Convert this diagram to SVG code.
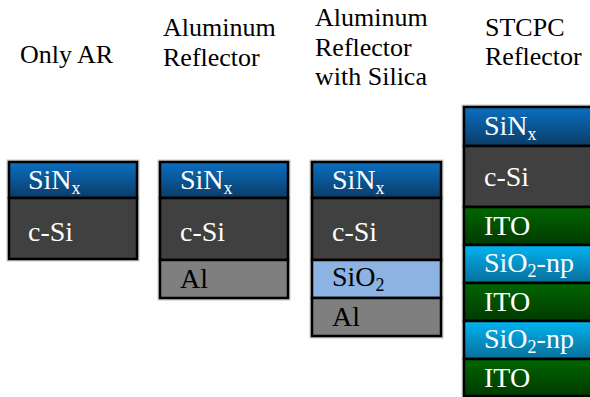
<svg xmlns="http://www.w3.org/2000/svg" width="590" height="397" viewBox="0 0 590 397">
<defs>
<linearGradient id="gSiN" x1="0" y1="0" x2="0" y2="1"><stop offset="0" stop-color="#0a70c2"/><stop offset="1" stop-color="#0a3c66"/></linearGradient>
<linearGradient id="gITO" x1="0" y1="0" x2="0" y2="1"><stop offset="0" stop-color="#006600"/><stop offset="1" stop-color="#003a00"/></linearGradient>
<linearGradient id="gNP" x1="0" y1="0" x2="0" y2="1"><stop offset="0" stop-color="#00b4f2"/><stop offset="1" stop-color="#0a6e98"/></linearGradient>
</defs>
<style>
text{font-family:'Liberation Serif','Times New Roman',serif}
.t{font-size:26px;fill:#000}
.l{font-size:28px;fill:#fff}
.d{fill:#000}
.sub{font-size:18px}
.lay{stroke:#000;stroke-width:2.5}
.halo{fill:none;stroke:#c8c8c8;stroke-width:5}
.sin{fill:url(#gSiN)}
.csi{fill:#404040}
.al{fill:#7f7f7f}
.sio{fill:#8db3e2}
.ito{fill:url(#gITO)}
.np{fill:url(#gNP)}
</style>
<g id="titles" font-family="Liberation Serif, serif">
<text class="t" x="20" y="63">Only AR</text>
<text class="t" x="163" y="36">Aluminum</text>
<text class="t" x="163" y="65.5">Reflector</text>
<text class="t" x="315" y="26">Aluminum</text>
<text class="t" x="315" y="55.5">Reflector</text>
<text class="t" x="315" y="85">with Silica</text>
<text class="t" x="485" y="35.5">STCPC</text>
<text class="t" x="485" y="65">Reflector</text>
</g>
<g id="stack-only-ar" font-family="Liberation Serif, serif">
<rect class="halo" x="9" y="162" width="128" height="97"/>
<rect class="lay sin" x="9" y="162" width="128" height="36"/>
<rect class="lay csi" x="9" y="198" width="128" height="61"/>
<text class="l" x="28" y="189">SiN<tspan class="sub" dy="5">x</tspan></text>
<text class="l" x="28" y="241">c-Si</text>
</g>
<g id="stack-al" font-family="Liberation Serif, serif">
<rect class="halo" x="160" y="162" width="128" height="136"/>
<rect class="lay sin" x="160" y="162" width="128" height="36"/>
<rect class="lay csi" x="160" y="198" width="128" height="62"/>
<rect class="lay al" x="160" y="260" width="128" height="38"/>
<text class="l" x="180" y="189">SiN<tspan class="sub" dy="5">x</tspan></text>
<text class="l" x="180" y="241">c-Si</text>
<text class="l d" x="180" y="288">Al</text>
</g>
<g id="stack-al-silica" font-family="Liberation Serif, serif">
<rect class="halo" x="312" y="162" width="129" height="174"/>
<rect class="lay sin" x="312" y="162" width="129" height="36"/>
<rect class="lay csi" x="312" y="198" width="129" height="62"/>
<rect class="lay sio" x="312" y="260" width="129" height="38"/>
<rect class="lay al" x="312" y="298" width="129" height="38"/>
<text class="l" x="332" y="189">SiN<tspan class="sub" dy="5">x</tspan></text>
<text class="l" x="332" y="241">c-Si</text>
<text class="l d" x="332" y="286">SiO<tspan class="sub" dy="5">2</tspan></text>
<text class="l d" x="332" y="326">Al</text>
</g>
<g id="stack-stcpc" font-family="Liberation Serif, serif">
<rect class="halo" x="464" y="107" width="131" height="289"/>
<rect class="lay sin" x="464" y="107" width="131" height="39"/>
<rect class="lay csi" x="464" y="146" width="131" height="61"/>
<rect class="lay ito" x="464" y="207" width="131" height="38"/>
<rect class="lay np" x="464" y="245" width="131" height="38"/>
<rect class="lay ito" x="464" y="283" width="131" height="38"/>
<rect class="lay np" x="464" y="321" width="131" height="38"/>
<rect class="lay ito" x="464" y="359" width="131" height="37"/>
<text class="l" x="484" y="135">SiN<tspan class="sub" dy="5">x</tspan></text>
<text class="l" x="484" y="186">c-Si</text>
<text class="l" x="484" y="235">ITO</text>
<text class="l" x="484" y="272">SiO<tspan class="sub" dy="5">2</tspan><tspan dy="-5">-np</tspan></text>
<text class="l" x="484" y="311">ITO</text>
<text class="l" x="484" y="348">SiO<tspan class="sub" dy="5">2</tspan><tspan dy="-5">-np</tspan></text>
<text class="l" x="484" y="387">ITO</text>
</g>
<g id="connectors"/>
</svg>
